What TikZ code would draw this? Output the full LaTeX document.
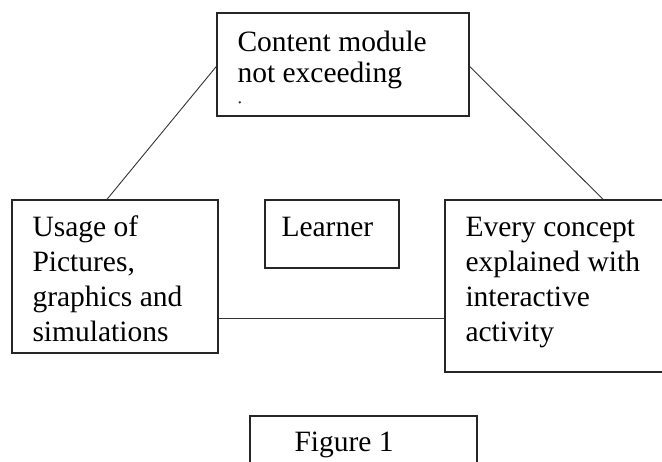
\documentclass[tikz,border=0pt]{standalone}
\usepackage{fontspec}
\setmainfont{Liberation Serif}
\usepackage{tikz}
\usetikzlibrary{positioning,calc}

\begin{document}
\begin{tikzpicture}[x=1pt, y=-1pt,
    box/.style={draw=black!85, line width=1.4pt, rectangle, inner sep=0pt},
    lbl/.style={inner sep=0pt, anchor=base west, align=left,
      font=\fontsize{29.5}{35}\selectfont},
    link/.style={draw=black!80, line width=0.9pt}]
    \useasboundingbox (0,0) rectangle (662,461);
    \clip (0,0) rectangle (662,461);
    % Boxes
    \node[box, minimum width=252pt, minimum height=103pt] (content) at (343,64.5) {};
    \node[box, minimum width=206pt, minimum height=153pt] (usage) at (115,276.5) {};
    \node[box, minimum width=134pt, minimum height=68pt] (learner) at (332,234) {};
    \node[box, minimum width=235pt, minimum height=172pt] (concept) at (562.5,286) {};
    \node[box, minimum width=227pt, minimum height=64pt] (figure) at (363.5,448) {};

    % Texts (base = last line)
    \node[lbl, font=\fontsize{29.5}{31}\selectfont] (contenttext) at ([shift={(21,70)}]content.north west)
      {Content module\\not exceeding};
    \node[circle, fill=black!80, inner sep=0pt, minimum size=2.6pt] (contentdot) at ([shift={(23.5,90)}]content.north west) {};
    \node[lbl] (usagetext) at ([shift={(21,142)}]usage.north west)
      {Usage of\\Pictures,\\graphics and\\simulations};
    \node[lbl] (learnertext) at ([shift={(17,37)}]learner.north west) {Learner};
    \node[lbl] (concepttext) at ([shift={(21,142)}]concept.north west)
      {Every concept\\explained with\\interactive\\activity};
    \node[lbl] (figuretext) at ([shift={(45,36)}]figure.north west) {Figure 1};

    % Lines
    \draw[link] ([yshift=-2pt]content.west) -- ([xshift=-8pt]usage.north);
    \draw[link] ([yshift=-2pt]content.east) -- ([xshift=40.5pt]concept.north);
    \draw[link] ([yshift=-41.5pt]usage.east) -- ([yshift=-41.5pt]usage.east -| concept.west);
\end{tikzpicture}
\end{document}
